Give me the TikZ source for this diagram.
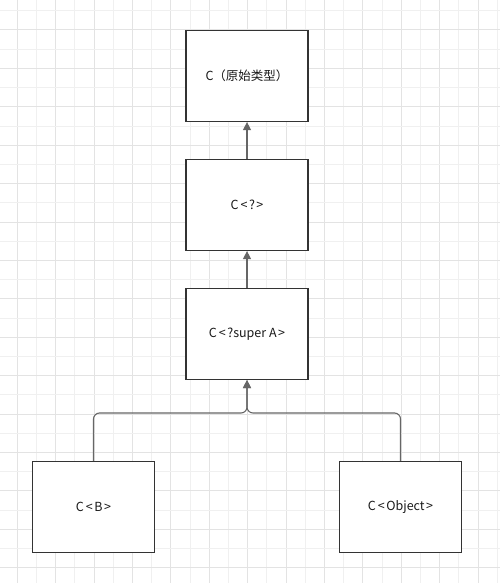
\documentclass[tikz,border=0pt]{standalone}
\usepackage{fontspec}
\setmainfont{Noto Sans CJK SC}
\usetikzlibrary{arrows.meta}
\definecolor{gridmaj}{HTML}{E3E3E3}
\definecolor{gridmin}{HTML}{F0F0F0}
\definecolor{boxline}{HTML}{333333}
\definecolor{edgeline}{HTML}{666666}
\definecolor{txt}{HTML}{1A1A1A}
\newcommand{\lan}{\kern2pt<\kern1.5pt}
\newcommand{\ran}{\kern1.5pt>}
\tikzset{
  box/.style={draw=boxline, line width=1.2pt, fill=white, minimum width=122pt, minimum height=91pt, inner sep=0pt, font=\fontsize{12.5}{14}\selectfont, text=txt},
  tip/.style={-{Triangle[width=8pt,length=8pt]}},
  conn/.style={draw=edgeline, line width=1.1pt, tip},
  connr/.style={draw=edgeline, line width=1.1pt, rounded corners=6pt, tip},
}
\begin{document}
\begin{tikzpicture}[x=1pt,y=-1pt]
\useasboundingbox (0,0) rectangle (500,583);
\fill[white] (0,0) rectangle (500,583);
% grid
\foreach \i in {0,...,25}{
  \pgfmathsetmacro{\xx}{17.3+19.2*\i}
  \pgfmathtruncatemacro{\odd}{mod(\i,2)}
  \ifnum\odd=0
    \draw[gridmaj, line width=1pt] (\xx,0) -- (\xx,583);
  \else
    \draw[gridmin, line width=1pt] (\xx,0) -- (\xx,583);
  \fi
}
\foreach \i in {0,...,30}{
  \pgfmathsetmacro{\yy}{10.8+19.2*\i}
  \pgfmathtruncatemacro{\odd}{mod(\i,2)}
  \ifnum\odd=1
    \draw[gridmaj, line width=1pt] (0,\yy) -- (500,\yy);
  \else
    \draw[gridmin, line width=1pt] (0,\yy) -- (500,\yy);
  \fi
}
% nodes
\node[box] (raw) at (247,76) {C（原始类型）};
\node[box] (any) at (247,205) {C\lan?\ran};
\node[box] (sup) at (247,334) {C\lan?super A\ran};
\node[box] (b) at (93.5,507) {C\lan B\ran};
\node[box] (obj) at (400.5,507) {C\lan Object\ran};
% connectors
\draw[conn] (any.north) -- (raw.south);
\draw[conn] (sup.north) -- (any.south);
\coordinate (join) at (247,413);
\draw[connr] (b.north) |- (join) -- (sup.south);
\draw[connr] (obj.north) |- (join) -- (sup.south);
\end{tikzpicture}
\end{document}
